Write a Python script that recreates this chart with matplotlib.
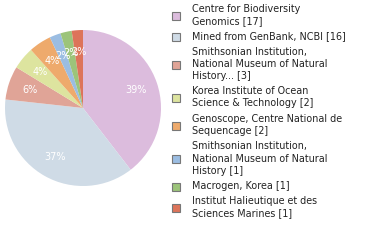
import matplotlib
matplotlib.use("Agg")
import matplotlib.pyplot as plt
from matplotlib.patches import Rectangle

# data
labels = [
    "Centre for Biodiversity\nGenomics [17]",
    "Mined from GenBank, NCBI [16]",
    "Smithsonian Institution,\nNational Museum of Natural\nHistory... [3]",
    "Korea Institute of Ocean\nScience & Technology [2]",
    "Genoscope, Centre National de\nSequencage [2]",
    "Smithsonian Institution,\nNational Museum of Natural\nHistory [1]",
    "Macrogen, Korea [1]",
    "Institut Halieutique et des\nSciences Marines [1]",
]
counts = [17, 16, 3, 2, 2, 1, 1, 1]
colors = ["#dcbcdd", "#cfdbe6", "#e0a497", "#dde49f",
          "#eeaa6c", "#9bbde2", "#9cc47a", "#dd745a"]

W, H = 380, 240
fig = plt.figure(figsize=(W / 100, H / 100), dpi=100)

# pie: center ~(83,108) px, radius ~78 px
cx, cy, r = 83, 108, 78
ax = fig.add_axes([(cx - r) / W, (H - cy - r) / H, 2 * r / W, 2 * r / H])
ax.pie(counts, colors=colors, startangle=90, counterclock=False,
       autopct=lambda p: f"{int(p)}%", pctdistance=0.72,
       wedgeprops=dict(linewidth=0),
       textprops=dict(color="white", fontsize=7))
ax.set_xlim(-1, 1)
ax.set_ylim(-1, 1)
ax.set_aspect("equal")
ax.axis("off")

# legend drawn by hand
line_h = 12
gap = 3.5
y = 9
for lab, col in zip(labels, colors):
    n = lab.count("\n") + 1
    mid = y + (n - 1) * line_h / 2
    fig.patches.append(Rectangle(((172) / W, (H - mid - 4.5) / H), 8 / W, 8 / H,
                                 transform=fig.transFigure, facecolor=col,
                                 edgecolor="#777777", linewidth=0.8))
    for k, ln in enumerate(lab.split("\n")):
        fig.text(192 / W, (H - (y + k * line_h)) / H, ln, fontsize=6.9,
                 color="#222222", va="center", ha="left")
    y += n * line_h + gap

fig.savefig("out.png", dpi=100, facecolor="white")
